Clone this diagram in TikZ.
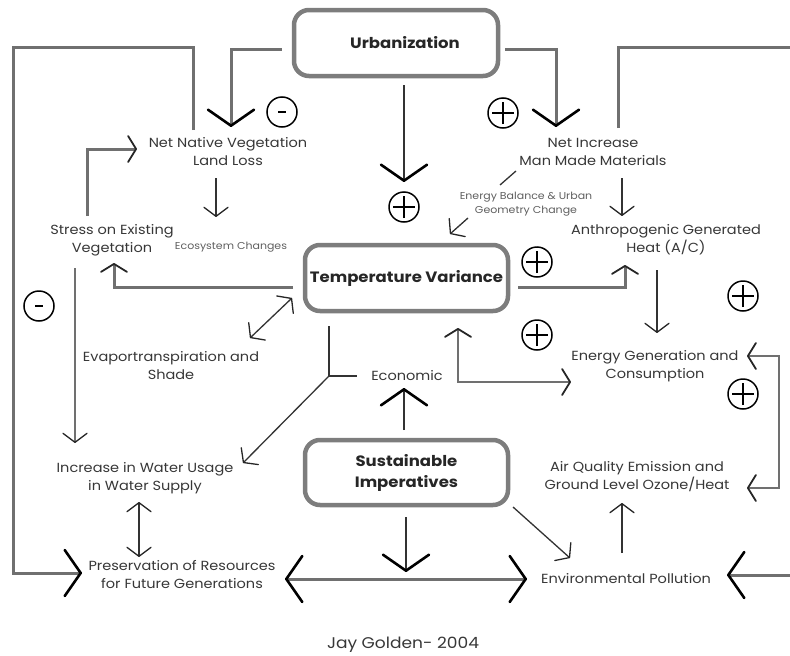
\documentclass[tikz,border=0pt]{standalone}
\usepackage{fontspec}
\setmainfont{Poppins}[FakeStretch=1.1]
\usetikzlibrary{arrows.meta}
\definecolor{lg}{RGB}{112,112,112}
\definecolor{bx}{RGB}{125,125,125}
\definecolor{tx}{RGB}{55,55,55}
\tikzset{
  bigtip/.tip={Straight Barb[length=16pt,width=46pt,line width=2.6pt,color=black,round]},
  midtip/.tip={Straight Barb[length=8pt,width=26pt,line width=1.8pt,color=black!85,round]},
  smalltip/.tip={Straight Barb[length=9pt,width=24pt,line width=1.3pt,color=black!85,round]},
}
\begin{document}
\begin{tikzpicture}[x=1pt,y=-1pt,
  gline/.style={draw=lg, line width=3pt},
  mline/.style={draw=lg, line width=2.2pt},
  tline/.style={draw=black!80, line width=1.3pt},
  boxnode/.style={draw=bx, line width=4.5pt, rounded corners=15pt, align=center,
     text=black!85, font=\bfseries\fontsize{15}{21}\selectfont, inner sep=0pt},
  txt/.style={align=center, text=tx, font=\fontsize{13.2}{18}\selectfont, inner sep=1pt},
  smalltxt/.style={align=center, text=tx!80, font=\fontsize{10}{14}\selectfont, inner sep=1pt},
  credit/.style={text=tx, font=\fontsize{15.5}{18}\selectfont, inner sep=1pt},
  signbase/.style={circle, draw=black, line width=1.5pt, minimum size=30pt, inner sep=0pt},
  plussign/.style={signbase, path picture={
     \draw[line width=2.4pt,black] ([xshift=-11pt]path picture bounding box.center) -- ([xshift=11pt]path picture bounding box.center)
       ([yshift=-11pt]path picture bounding box.center) -- ([yshift=11pt]path picture bounding box.center);}},
  minussign/.style={signbase, path picture={
     \draw[line width=2.8pt,black] ([xshift=-4pt]path picture bounding box.center) -- ([xshift=4pt]path picture bounding box.center);}}
]
\useasboundingbox (0,0) rectangle (790,656);

% main boxes
\node[boxnode, minimum width=204pt, minimum height=66pt] (urb) at (396,43) {\hspace*{18pt}Urbanization};
\node[boxnode, minimum width=203pt, minimum height=66pt] (tv) at (406.5,278) {Temperature Variance};
\node[boxnode, minimum width=203pt, minimum height=65pt] (si) at (406.5,472.5) {Sustainable\\Imperatives};

% text nodes
\node[txt] (nnv) at (228,152) {Net Native Vegetation\\Land Loss};
\node[txt] (nimm) at (593,152) {Net Increase\\Man Made Materials};
\node[smalltxt] (eco) at (231,247) {Ecosystem Changes};
\node[smalltxt] (ebu) at (526,204) {Energy Balance \& Urban\\Geometry Change};
\node[txt] (sev) at (112,240) {Stress on Existing\\Vegetation};
\node[txt] (agh) at (666,240) {Anthropogenic Generated\\Heat (A/C)};
\node[txt] (evap) at (171,366) {Evaportranspiration and\\Shade};
\node[txt] (egc) at (655,366) {Energy Generation and\\Consumption};
\node[txt] (econ) at (407,376) {Economic};
\node[txt] (iwu) at (145,478) {Increase in Water Usage\\in Water Supply};
\node[txt] (aq) at (637,477) {Air Quality Emission and\\Ground Level Ozone/Heat};
\node[txt] (pres) at (182,575) {Preservation of Resources\\for Future Generations};
\node[txt] (env) at (626,579) {Environmental Pollution};
\node[credit] (jg) at (403,645) {Jay Golden- 2004};

% signs
\node[minussign] (s1) at (282,112) {};
\node[plussign] (s2) at (503,113) {};
\node[plussign] (s3) at (404,207) {};
\node[plussign] (s4) at (537,262) {};
\node[plussign] (s5) at (537,335) {};
\node[plussign] (s6) at (743,296) {};
\node[plussign] (s7) at (743,394) {};
\node[minussign] (s8) at (39,306) {};

% coordinates
\coordinate (tNNV) at (231,127);
\coordinate (tNIMM) at (556,127);
\coordinate (tUrbDown) at (404,182);
\coordinate (lStart) at (193,130);
\coordinate (tPresL) at (82,573);
\coordinate (rStart) at (618,128);
\coordinate (tEnvR) at (727,575);
\coordinate (sevTop) at (87,216);
\coordinate (tNNVw) at (137,149);
\coordinate (ecoTop) at (216,178);
\coordinate (tEco) at (216,217);
\coordinate (tvL) at (293,287);
\coordinate (tSev) at (114,263);
\coordinate (evapEnd) at (250,338);
\coordinate (tvEnd) at (292,298);
\coordinate (sevDown) at (75,268);
\coordinate (tIwu) at (75,443);
\coordinate (tvBot) at (329,326);
\coordinate (junc) at (329,376);
\coordinate (econW) at (357,376);
\coordinate (tIwuD) at (243,463);
\coordinate (siTop) at (404,430);
\coordinate (tEcon) at (404,388);
\coordinate (tTvUp) at (458,328);
\coordinate (egcCorner) at (458,382);
\coordinate (tEgcW) at (571,382);
\coordinate (tvR) at (518,287);
\coordinate (tAgh) at (625,265);
\coordinate (nimmBot) at (622,178);
\coordinate (tAghTop) at (622,216);
\coordinate (aghBot) at (657,270);
\coordinate (tEgc) at (657,333);
\coordinate (nimmLine) at (516,171);
\coordinate (ebuLine) at (500,185);
\coordinate (ebuBot) at (468,218);
\coordinate (tTvTR) at (450,234);
\coordinate (tEgcE) at (747,356);
\coordinate (tAqE) at (747,488);
\coordinate (envTop) at (622,553);
\coordinate (tAq) at (622,503);
\coordinate (siBR) at (513,507);
\coordinate (tEnv) at (570,558);
\coordinate (tPresR) at (285,579);
\coordinate (tEnvL) at (527,579);
\coordinate (siBot) at (406,517);
\coordinate (tSiDown) at (406,572);
\coordinate (tIwuB) at (139,502);
\coordinate (tPresT) at (139,557);

% Urbanization outputs
\draw[gline,-bigtip] ([shift={(-10pt,-6pt)}]urb.west) -| (tNNV);
\draw[gline,-bigtip] ([shift={(5pt,-6pt)}]urb.east) -| (tNIMM);
\draw[tline,-bigtip] ([shift={(8pt,-7pt)}]urb.south) -- (tUrbDown);

% big loops
\draw[gline,-bigtip] (lStart) |- (13,47) |- (tPresL);
\begin{scope}
\clip (0,0) rectangle (790,656);
\draw[gline,-bigtip] (rStart) |- (800,47) |- (tEnvR);
\end{scope}

% left side
\draw[gline,-midtip] (sevTop) |- (tNNVw);
\draw[tline,-smalltip] (ecoTop) -- (tEco);
\draw[gline,-midtip] (tvL) -| (tSev);
\draw[tline,smalltip-smalltip] (evapEnd) -- (tvEnd);
\draw[mline,-smalltip] (sevDown) -- (tIwu);
\draw[tline] (tvBot) -- (junc) -- (econW);
\draw[tline,-smalltip] (junc) -- (tIwuD);
\draw[tline,smalltip-smalltip] (tIwuB) -- (tPresT);

% centre
\draw[tline,-bigtip] (siTop) -- (tEcon);
\draw[mline,midtip-midtip] (tTvUp) -- (egcCorner) -- (tEgcW);
\draw[tline,-bigtip] (siBot) -- (tSiDown);
\draw[gline,bigtip-bigtip] (tPresR) -- (tEnvL);

% right side
\draw[gline,-midtip] (tvR) -| (tAgh);
\draw[tline,-smalltip] (nimmBot) -- (tAghTop);
\draw[tline,-smalltip] (aghBot) -- (tEgc);
\draw[tline] (nimmLine) -- (ebuLine);
\draw[tline,-smalltip] (ebuBot) -- (tTvTR);
\draw[mline,midtip-midtip] (tEgcE) -| (779,422) |- (tAqE);
\draw[tline,-smalltip] (envTop) -- (tAq);
\draw[tline,-smalltip] (siBR) -- (tEnv);
\end{tikzpicture}
\end{document}
